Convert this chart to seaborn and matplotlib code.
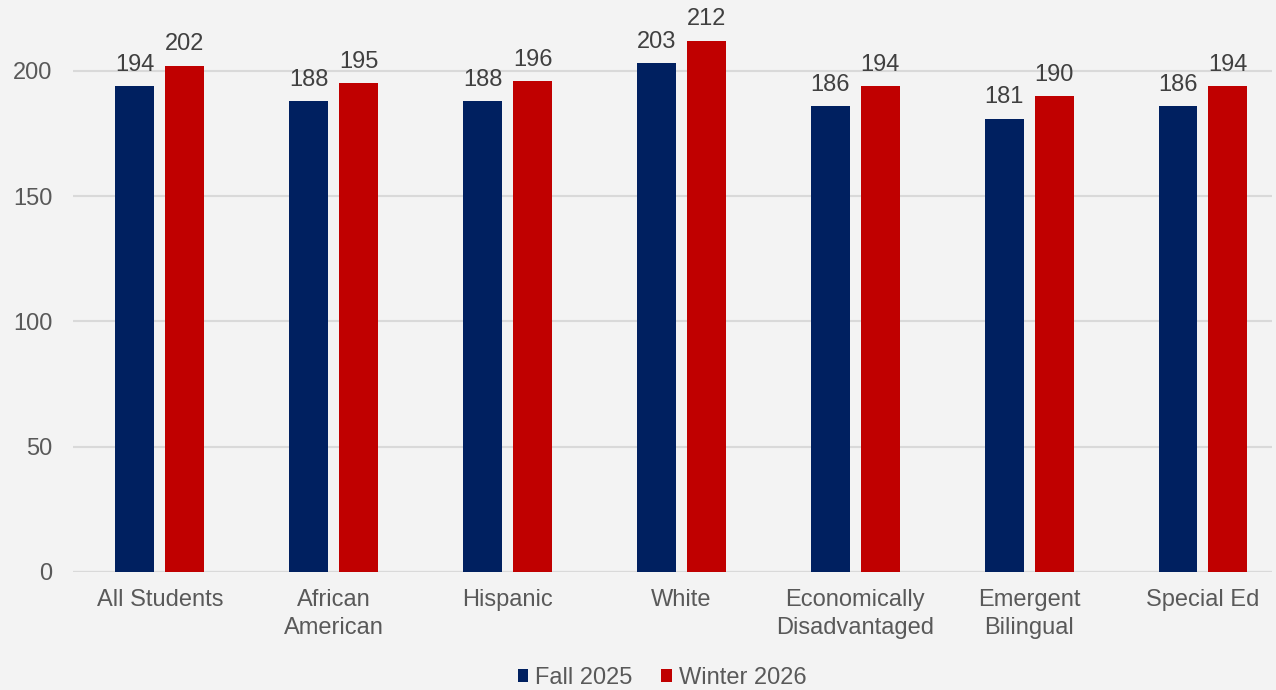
import matplotlib
matplotlib.use("Agg")
import matplotlib.pyplot as plt
import seaborn as sns
import pandas as pd
from matplotlib.patches import Patch

categories = ["All Students", "African\nAmerican", "Hispanic", "White",
              "Economically\nDisadvantaged", "Emergent\nBilingual", "Special Ed"]
fall_2025 = [194, 188, 188, 203, 186, 181, 186]
winter_2026 = [202, 195, 196, 212, 194, 190, 194]
series_names = ["Fall 2025", "Winter 2026"]
yticks = [0, 50, 100, 150, 200]

colors = {"Fall 2025": "#002060", "Winter 2026": "#C00000"}
bg = "#f3f3f3"

df = pd.DataFrame({
    "Category": categories * 2,
    "Score": fall_2025 + winter_2026,
    "Term": [series_names[0]] * len(categories) + [series_names[1]] * len(categories),
})

sns.set_theme(style="white")
plt.rcParams["font.family"] = ["Liberation Sans", "DejaVu Sans"]

fs = 17
fig = plt.figure(figsize=(12.76, 6.9), dpi=100, facecolor=bg)
ax = fig.add_axes([73 / 1276, 118 / 690, (1272 - 73) / 1276, 572 / 690])
ax.set_facecolor(bg)

sns.barplot(data=df, x="Category", y="Score", hue="Term", order=categories,
            hue_order=series_names, palette=colors, width=0.575, gap=0.22,
            saturation=1, ax=ax, legend=False, errorbar=None, linewidth=0)

for cont in ax.containers:
    ax.bar_label(cont, fmt="%d", padding=7.5, fontsize=fs, color="#404040")

ax.set_ylim(0, 228.3)
ax.set_xlim(-0.5, 6.397)
ax.set_yticks(yticks)
ax.yaxis.grid(True, color="#d9d9d9", linewidth=1.5)
ax.set_axisbelow(True)
for s in ax.spines.values():
    s.set_visible(False)
ax.axhline(0, color="#d0d0d0", linewidth=1.5, zorder=0.5)
ax.tick_params(axis="y", length=0, pad=15, labelsize=fs, labelcolor="#595959")
ax.tick_params(axis="x", length=0, pad=12, labelsize=fs, labelcolor="#595959")
for t in ax.get_xticklabels():
    t.set_linespacing(1.35)
ax.set_xlabel("")
ax.set_ylabel("")

handles = [Patch(facecolor=colors[n], edgecolor="none", label=n) for n in series_names]
fig.legend(handles=handles, loc="center", bbox_to_anchor=(662 / 1276, 12 / 690),
           ncol=2, frameon=False, fontsize=fs, labelcolor="#595959",
           handlelength=0.45, handleheight=0.45, handletextpad=0.3, columnspacing=1.2,
           borderpad=0)

fig.savefig("out.png", dpi=100, facecolor=bg)
